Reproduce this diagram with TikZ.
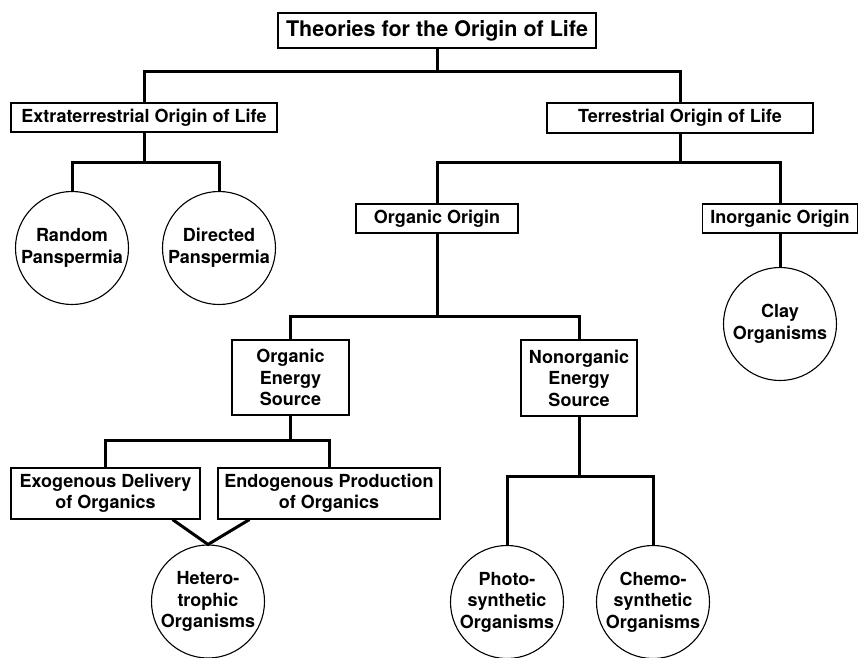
\documentclass[tikz,border=0pt]{standalone}
\usepackage{fontspec}
\setmainfont{TeX Gyre Heros}
\tikzset{
  every node/.style={font=\bfseries\fontsize{18}{21.5}\selectfont, align=center, inner sep=0pt},
  boxnode/.style={draw, line width=1.1pt, rectangle},
  circnode/.style={draw, line width=1.1pt, circle, minimum size=113pt},
  conn/.style={line width=3pt, line join=miter, line cap=butt},
}
\begin{document}
\begin{tikzpicture}[x=1pt,y=-1pt]
\useasboundingbox (0,0) rectangle (859,658);
% boxes
\node[boxnode, minimum width=318pt, minimum height=35pt, font=\bfseries\fontsize{21.5}{24}\selectfont] (title) at (437,30.5) {Theories for the Origin of Life};
\node[boxnode, minimum width=266pt, minimum height=29pt] (ext) at (144,117.5) {Extraterrestrial Origin of Life};
\node[boxnode, minimum width=266pt, minimum height=30pt] (ter) at (680,118) {Terrestrial Origin of Life};
\node[boxnode, minimum width=162pt, minimum height=29pt] (org) at (437,218.5) {Organic Origin};
\node[boxnode, minimum width=155pt, minimum height=29pt] (inorg) at (780,218.5) {Inorganic Origin};
\node[boxnode, minimum width=117pt, minimum height=75pt] (oes) at (290.5,377.5) {Organic\\Energy\\Source};
\node[boxnode, minimum width=116pt, minimum height=76pt] (nes) at (579,378) {Nonorganic\\Energy\\Source};
\node[boxnode, minimum width=189pt, minimum height=51pt] (exo) at (105.5,493.5) {Exogenous Delivery\\of Organics};
\node[boxnode, minimum width=222pt, minimum height=51pt] (endo) at (329,493.5) {Endogenous Production\\of Organics};
% circles
\node[circnode] (random) at (72,248) {Random\\Panspermia};
\node[circnode] (directed) at (219,248) {Directed\\Panspermia};
\node[circnode] (clay) at (780,324) {Clay\\Organisms};
\node[circnode] (hetero) at (208,601.5) {Hetero-\\trophic\\Organisms};
\node[circnode] (photo) at (507,602) {Photo-\\synthetic\\Organisms};
\node[circnode] (chemo) at (653,602) {Chemo-\\synthetic\\Organisms};
% junctions
\coordinate (j1) at (437,72);
\coordinate (j2) at (144,162);
\coordinate (j3) at (680,162);
\coordinate (j4) at (437,316);
\coordinate (j5) at (290.5,440);
\coordinate (j6) at (579,476);
% connectors
\draw[conn] (title.south) -- (j1);
\draw[conn] (ext.north) |- (j1) -| (ter.north);
\draw[conn] (ext.south) -- (j2);
\draw[conn] (random.north) |- (j2) -| (directed.north);
\draw[conn] (ter.south) -- (j3);
\draw[conn] (org.north) |- (j3) -| (inorg.north);
\draw[conn] (inorg.south) -- (clay.north);
\draw[conn] (org.south) -- (j4);
\draw[conn] (oes.north) |- (j4) -| (nes.north);
\draw[conn] (oes.south) -- (j5);
\draw[conn] (exo.north) |- (j5) -| (endo.north);
\draw[conn] ([xshift=-28pt]exo.south east) -- (hetero.north) -- ([xshift=32pt]endo.south west);
\draw[conn] (nes.south) -- (j6);
\draw[conn] (photo.north) |- (j6) -| (chemo.north);
\end{tikzpicture}
\end{document}
